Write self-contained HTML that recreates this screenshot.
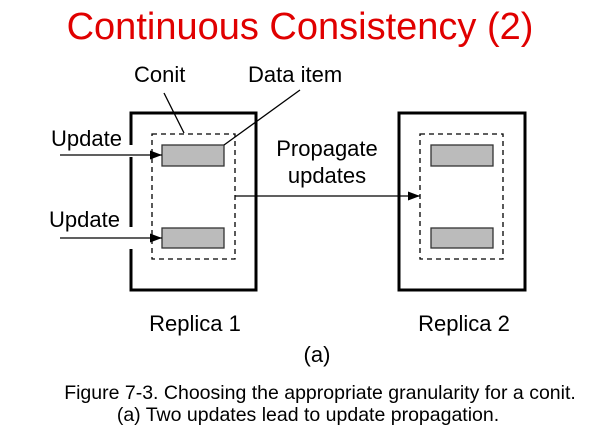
<!DOCTYPE html>
<html><head><style>
body{margin:0;width:600px;height:432px;background:#fff;overflow:hidden;font-family:"Liberation Sans",sans-serif}
svg{position:absolute;left:0;top:0}
</style></head><body>
<svg width="600" height="432" font-family="Liberation Sans, sans-serif">
<defs><marker id="a" markerWidth="12" markerHeight="9" refX="12" refY="4.5" orient="auto" markerUnits="userSpaceOnUse"><path d="M0,0L12,4.5L0,9z" fill="#000"/></marker></defs>
<text x="300" y="39" font-size="38" fill="#e00000" text-anchor="middle">Continuous Consistency (2)</text>
<g stroke="#000" stroke-width="3" fill="none">
<path d="M131,145V113H256V290H131V249"/>
<path d="M131,157V227"/>
<rect x="399" y="113" width="126" height="177"/>
</g>
<g stroke="#000" stroke-width="1.3" fill="none" stroke-dasharray="5,4">
<rect x="152" y="134" width="83" height="125"/>
<rect x="420" y="134" width="83" height="125"/>
</g>
<g fill="#bbb" stroke="#333" stroke-width="1.3">
<rect x="162" y="145" width="62" height="21"/>
<rect x="162" y="228" width="62" height="20"/>
<rect x="431" y="145" width="62" height="21"/>
<rect x="431" y="228" width="62" height="20"/>
</g>
<g stroke="#000" stroke-width="1.3">
<line x1="60" y1="155" x2="162" y2="155" marker-end="url(#a)"/>
<line x1="60" y1="238" x2="162" y2="238" marker-end="url(#a)"/>
<line x1="235" y1="196" x2="420" y2="196" marker-end="url(#a)"/>
<line x1="164" y1="93" x2="184" y2="133"/>
<line x1="224" y1="145" x2="300" y2="90"/>
</g>
<g font-size="22" fill="#000">
<text x="134" y="82">Conit</text>
<text x="248" y="82">Data item</text>
<text x="51" y="146">Update</text>
<text x="49" y="227">Update</text>
<text x="327" y="156" text-anchor="middle">Propagate</text>
<text x="327" y="183" text-anchor="middle">updates</text>
<text x="195" y="331" text-anchor="middle">Replica 1</text>
<text x="464" y="331" text-anchor="middle">Replica 2</text>
<text x="317" y="362" text-anchor="middle">(a)</text>
</g>
<g font-size="19.5" fill="#000">
<text x="320" y="399" text-anchor="middle">Figure 7-3. Choosing the appropriate granularity for a conit.</text>
<text x="308" y="421" text-anchor="middle">(a) Two updates lead to update propagation.</text>
</g>
</svg>
</body></html>
